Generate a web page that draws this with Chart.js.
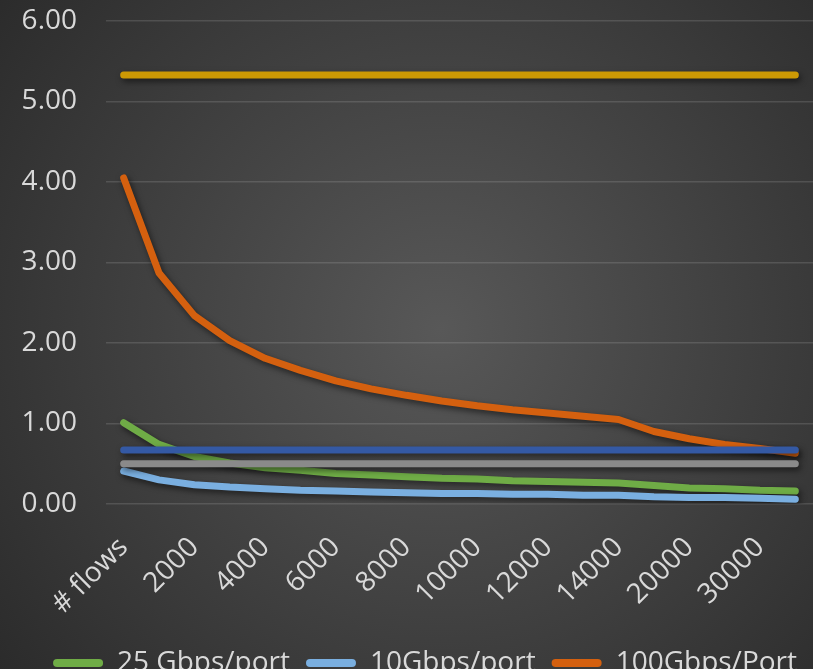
<!DOCTYPE html>
<html>
<head>
<meta charset="utf-8">
<style>
  html, body { margin: 0; padding: 0; background: #2a2a2a; overflow: hidden; }
  #frame { width: 813px; height: 669px; overflow: hidden; }
  canvas { display: block; }
</style>
<script src="https://cdn.jsdelivr.net/npm/chart.js@4/dist/chart.umd.min.js"></script>
</head>
<body>
<div id="frame"><canvas id="chart" width="813" height="687"></canvas></div>
<script>
// Categories along the x axis (every other one is labelled)
const categories = ['# flows', '1000', '2000', '3000', '4000', '5000', '6000', '7000', '8000', '9000',
                    '10000', '11000', '12000', '13000', '14000', '16000', '20000', '25000', '30000', '35000'];

// Series values
const gbps25 = [1.01, 0.74, 0.59, 0.51, 0.45, 0.42, 0.38, 0.36, 0.34, 0.32,
                0.31, 0.29, 0.28, 0.27, 0.26, 0.23, 0.20, 0.19, 0.17, 0.16];
const gbps10 = [0.41, 0.30, 0.24, 0.21, 0.19, 0.17, 0.16, 0.15, 0.14, 0.13,
                0.13, 0.12, 0.12, 0.11, 0.11, 0.09, 0.08, 0.08, 0.07, 0.06];
const gbps100 = [4.05, 2.87, 2.34, 2.03, 1.81, 1.66, 1.53, 1.43, 1.35, 1.28,
                 1.22, 1.17, 1.13, 1.09, 1.05, 0.90, 0.81, 0.74, 0.69, 0.63];
const levelHigh = [5.33, 5.33, 5.33, 5.33, 5.33, 5.33, 5.33, 5.33, 5.33, 5.33,
                   5.33, 5.33, 5.33, 5.33, 5.33, 5.33, 5.33, 5.33, 5.33, 5.33];
const levelMid = [0.67, 0.67, 0.67, 0.67, 0.67, 0.67, 0.67, 0.67, 0.67, 0.67,
                  0.67, 0.67, 0.67, 0.67, 0.67, 0.67, 0.67, 0.67, 0.67, 0.67];
const levelLow = [0.50, 0.50, 0.50, 0.50, 0.50, 0.50, 0.50, 0.50, 0.50, 0.50,
                  0.50, 0.50, 0.50, 0.50, 0.50, 0.50, 0.50, 0.50, 0.50, 0.50];

// Y axis range
const yMin = 0, yMax = 6, yStep = 1;

const textColor = '#d9d9d9';
const font = { family: "'Open Sans', sans-serif", size: 28 };

function series(label, data, color, order) {
  return {
    label, data, order,
    borderColor: color, backgroundColor: color,
    borderWidth: 7, pointRadius: 0, pointHoverRadius: 0,
    borderCapStyle: 'round', borderJoinStyle: 'round',
    tension: 0, fill: false
  };
}

// Dark radial backdrop
const backdrop = {
  id: 'backdrop',
  beforeDraw(chart) {
    const { ctx, width, height } = chart;
    const g = ctx.createRadialGradient(440, 330, 0, 440, 330, 620);
    g.addColorStop(0, '#585858');
    g.addColorStop(1, '#262626');
    ctx.save();
    ctx.fillStyle = g;
    ctx.fillRect(0, 0, width, height);
    ctx.restore();
  }
};

// Soft drop shadow under each line
const lineShadow = {
  id: 'lineShadow',
  beforeDatasetDraw(chart) {
    const ctx = chart.ctx;
    ctx.save();
    ctx.shadowColor = 'rgba(0,0,0,0.55)';
    ctx.shadowBlur = 6;
    ctx.shadowOffsetX = 2;
    ctx.shadowOffsetY = 3;
  },
  afterDatasetDraw(chart) {
    chart.ctx.restore();
  }
};

new Chart(document.getElementById('chart'), {
  type: 'line',
  data: {
    labels: categories,
    datasets: [
      series('25 Gbps/port', gbps25, '#6fac46', 6),
      series('10Gbps/port', gbps10, '#7aafe0', 5),
      series('100Gbps/Port', gbps100, '#d4600f', 4),
      series('Series4', levelHigh, '#cc9904', 3),
      series('Series5', levelMid, '#3459a4', 2),
      series('Series6', levelLow, '#8a8a8a', 1)
    ]
  },
  options: {
    responsive: false,
    animation: false,
    layout: { padding: { top: 21, left: 0, right: 0, bottom: 0 } },
    plugins: {
      tooltip: { enabled: false },
      legend: {
        position: 'bottom',
        align: 'end',
        labels: {
          color: textColor,
          font,
          boxWidth: 50,
          boxHeight: 8,
          useBorderRadius: true,
          borderRadius: 4,
          padding: 16,
          filter: item => item.datasetIndex < 3,
          sort: (a, b) => a.datasetIndex - b.datasetIndex,
          generateLabels(chart) {
            return Chart.defaults.plugins.legend.labels.generateLabels(chart).map(it => ({
              ...it, fillStyle: it.strokeStyle, lineWidth: 0
            }));
          }
        }
      }
    },
    scales: {
      x: {
        offset: true,
        grid: { display: false, drawTicks: false },
        border: { display: false },
        afterFit(scale) {
          scale.height = 129;
          scale.paddingLeft = 0;
          scale.paddingRight = 0;
        },
        ticks: {
          color: textColor,
          font,
          autoSkip: false,
          minRotation: 45,
          maxRotation: 45,
          padding: 27,
          callback(value, index) { return index % 2 === 0 ? categories[index] : ''; }
        }
      },
      y: {
        min: yMin, max: yMax,
        grid: { color: 'rgba(255,255,255,0.13)', lineWidth: 1.5, drawTicks: false },
        border: { display: false },
        afterFit(scale) {
          scale.width = 106;
          scale.paddingTop = 0;
          scale.paddingBottom = 0;
        },
        ticks: {
          color: textColor,
          font,
          stepSize: yStep,
          padding: 29,
          callback: v => v.toFixed(2)
        }
      }
    }
  },
  plugins: [backdrop, lineShadow]
});
</script>
</body>
</html>
